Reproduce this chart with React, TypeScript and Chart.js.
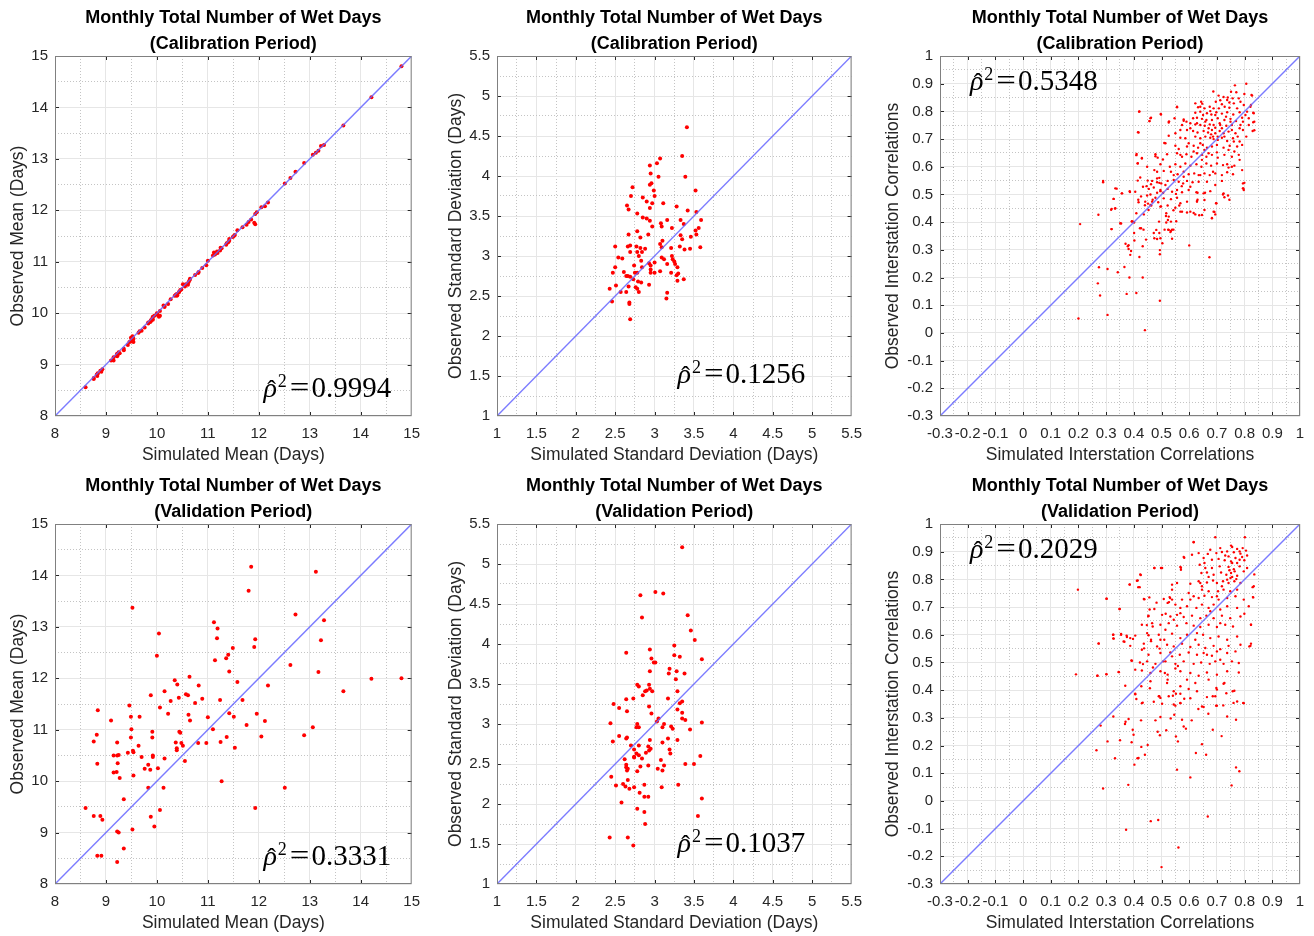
import React, { useEffect, useRef } from "react";
import { Chart, registerables } from "chart.js";

Chart.register(...registerables);

const SANS = "'Liberation Sans', Arial, Helvetica, sans-serif";
const SERIF = "'Liberation Serif', 'Times New Roman', serif";

const TITLE_MAIN = "Monthly Total Number of Wet Days";
const PERIODS = ["(Calibration Period)", "(Validation Period)"];
const RHO_VALUES = ["0.9994", "0.1256", "0.5348", "0.3331", "0.1037", "0.2029"];

// Simulated monthly means (shared by calibration and validation panels)
const simMean = [
  8.60, 8.76, 8.76, 8.82, 8.84, 8.83, 8.83, 8.91, 8.89, 8.93,
  9.10, 9.15, 9.15, 9.21, 9.22, 9.22, 9.25, 9.23, 9.27, 9.22,
  9.25, 9.22, 9.35, 9.35, 9.43, 9.46, 9.49, 9.50, 9.49, 9.52,
  9.53, 9.54, 9.54, 9.52, 9.66, 9.64, 9.70, 9.76, 9.83, 9.87,
  9.83, 9.88, 9.91, 9.91, 9.92, 9.92, 9.88, 9.95, 10.00, 10.04,
  10.06, 10.02, 10.06, 10.15, 10.15, 10.13, 10.22, 10.27, 10.35, 10.40,
  10.43, 10.37, 10.39, 10.39, 10.44, 10.46, 10.48, 10.51, 10.55, 10.57,
  10.61, 10.64, 10.62, 10.65, 10.75, 10.82, 10.89, 10.81, 10.97, 11.00,
  11.10, 11.12, 11.19, 11.18, 11.14, 11.24, 11.25, 11.27, 11.36, 11.40,
  11.42, 11.49, 11.42, 11.51, 11.37, 11.53, 11.58, 11.68, 11.76, 11.80,
  11.85, 11.91, 11.93, 11.96, 11.93, 12.12, 12.05, 12.18, 12.51, 12.62,
  12.72, 12.89, 13.06, 13.12, 13.17, 13.22, 13.28, 13.66, 14.21, 14.80,
];

const calObsMean = [
  8.56, 8.72, 8.74, 8.80, 8.83, 8.78, 8.81, 8.86, 8.88, 8.91,
  9.08, 9.08, 9.14, 9.18, 9.20, 9.16, 9.22, 9.19, 9.22, 9.21,
  9.24, 9.18, 9.31, 9.28, 9.38, 9.44, 9.52, 9.47, 9.45, 9.55,
  9.46, 9.50, 9.44, 9.53, 9.65, 9.62, 9.66, 9.72, 9.80, 9.83,
  9.82, 9.86, 9.88, 9.90, 9.87, 9.93, 9.84, 9.95, 10.00, 9.93,
  10.04, 9.96, 9.95, 10.14, 10.12, 10.15, 10.18, 10.27, 10.34, 10.35,
  10.40, 10.36, 10.37, 10.34, 10.42, 10.45, 10.46, 10.56, 10.52, 10.56,
  10.55, 10.64, 10.60, 10.67, 10.74, 10.80, 10.88, 10.78, 10.93, 11.02,
  11.12, 11.18, 11.17, 11.20, 11.14, 11.22, 11.27, 11.26, 11.33, 11.38,
  11.41, 11.48, 11.44, 11.50, 11.36, 11.52, 11.61, 11.67, 11.72, 11.77,
  11.82, 11.76, 11.93, 11.96, 11.73, 12.08, 12.06, 12.15, 12.52, 12.63,
  12.75, 12.92, 13.08, 13.12, 13.16, 13.25, 13.27, 13.65, 14.20, 14.80,
];

const valObsMean = [
  9.48, 9.32, 10.77, 10.90, 11.38, 10.34, 8.55, 8.55, 9.32, 9.25,
  11.18, 10.50, 10.17, 10.18, 10.75, 10.50, 10.51, 10.35, 10.06, 9.02,
  9.00, 8.43, 9.65, 8.69, 10.55, 11.47, 11.25, 11.01, 10.85, 13.37,
  10.59, 10.56, 10.11, 9.06, 11.25, 10.69, 10.47, 10.24, 10.32, 10.22,
  9.87, 11.67, 10.96, 10.85, 10.50, 10.47, 9.31, 9.12, 12.44, 12.87,
  11.43, 10.25, 9.44, 11.75, 10.44, 9.87, 11.31, 11.56, 11.96, 11.88,
  11.62, 10.75, 10.64, 10.60, 10.96, 10.94, 10.74, 10.69, 10.39, 11.69,
  11.67, 12.03, 11.29, 11.18, 11.52, 11.86, 11.60, 10.74, 10.74, 11.24,
  11.01, 13.09, 12.97, 12.78, 12.35, 11.58, 10.76, 10.00, 12.39, 12.46,
  12.13, 12.59, 11.32, 11.25, 10.86, 10.65, 11.93, 11.58, 11.09, 13.70,
  14.17, 12.61, 12.76, 11.31, 9.48, 11.17, 10.87, 11.86, 9.87, 12.26,
  13.24, 10.89, 11.05, 14.07, 12.12, 12.74, 13.13, 11.75, 11.99, 12.00,
];

// [simulated, observed] standard deviations
const calSd = [
  [3.41,4.61],[3.35,4.25],[3.07,4.22],[3.03,4.16],[2.94,4.13],[2.95,4.03],[3.05,3.99],[3.39,3.99],[2.96,3.91],[2.94,3.89],
  [2.72,3.86],[2.99,3.82],[3.00,3.75],[2.70,3.75],[3.52,3.82],[2.85,3.73],[2.90,3.68],[2.97,3.66],[3.11,3.66],[2.94,3.60],
  [2.65,3.63],[2.67,3.58],[3.28,3.62],[3.42,3.57],[3.53,3.55],[2.78,3.53],[2.85,3.48],[2.90,3.47],[2.94,3.44],[3.16,3.45],
  [3.33,3.45],[3.59,3.45],[3.08,3.41],[3.09,3.37],[2.97,3.37],[3.37,3.40],[3.22,3.35],[3.56,3.35],[2.67,3.27],[2.78,3.31],
  [3.52,3.32],[3.53,3.27],[2.92,3.27],[2.82,3.23],[3.33,3.26],[3.46,3.24],[3.10,3.19],[3.35,3.21],[2.50,3.12],[2.66,3.12],
  [2.69,3.13],[2.77,3.12],[2.82,3.10],[2.88,3.09],[3.07,3.15],[3.09,3.11],[3.32,3.12],[3.38,3.08],[3.45,3.09],[3.58,3.11],
  [2.78,3.05],[2.69,3.05],[2.84,3.05],[2.80,3.00],[3.21,3.10],[3.22,3.00],[3.09,2.98],[3.12,2.96],[3.23,2.96],[3.25,2.93],
  [3.00,2.92],[2.54,2.98],[2.59,2.97],[2.83,2.94],[2.95,2.88],[3.16,2.90],[2.93,2.91],[2.74,2.88],[2.47,2.79],[2.50,2.86],
  [2.61,2.80],[2.64,2.75],[2.66,2.75],[2.69,2.74],[2.75,2.79],[2.78,2.79],[2.84,2.86],[2.95,2.83],[2.95,2.79],[3.07,2.81],
  [3.21,2.79],[3.29,2.86],[3.30,2.78],[3.28,2.76],[3.37,2.71],[3.29,2.69],[2.79,2.68],[2.83,2.67],[2.73,2.71],[2.43,2.59],
  [2.51,2.63],[2.67,2.62],[2.76,2.61],[2.78,2.59],[2.93,2.64],[2.57,2.55],[2.64,2.55],[2.80,2.55],[3.16,2.54],[3.15,2.47],
  [2.46,2.43],[2.68,2.42],[2.68,2.40],[2.69,2.21],[3.00,2.79],[3.26,2.90],
];

const valSd = [
  [3.35,5.21],[3.01,4.65],[3.11,4.63],[2.82,4.61],[2.84,4.33],[3.42,4.36],[3.46,4.17],[3.51,4.05],[3.25,3.98],[3.25,3.86],
  [2.94,3.93],[2.64,3.89],[3.32,3.84],[3.60,3.81],[2.96,3.82],[2.99,3.77],[3.01,3.77],[3.19,3.69],[3.18,3.63],[2.94,3.66],
  [3.28,3.66],[3.38,3.63],[3.27,3.56],[2.78,3.49],[2.80,3.47],[2.93,3.49],[2.94,3.44],[2.90,3.42],[2.88,3.41],[2.97,3.41],
  [2.85,3.36],[3.29,3.41],[2.73,3.32],[2.64,3.31],[3.17,3.32],[3.35,3.28],[3.32,3.26],[2.48,3.25],[2.55,3.20],[2.65,3.16],
  [2.93,3.22],[2.96,3.13],[3.29,3.18],[3.35,3.14],[3.35,3.07],[3.39,3.05],[3.05,3.07],[3.03,3.03],[2.44,3.01],[2.78,3.00],
  [2.77,2.96],[2.80,2.96],[3.12,3.00],[3.10,2.96],[3.21,2.97],[3.23,2.94],[3.45,2.93],[3.60,3.02],[2.55,2.85],[2.47,2.78],
  [2.64,2.82],[2.65,2.83],[2.94,2.80],[3.17,2.82],[3.29,2.80],[3.10,2.77],[2.70,2.73],[2.80,2.73],[2.92,2.72],[2.95,2.69],
  [2.93,2.67],[2.74,2.68],[2.77,2.63],[3.19,2.68],[3.20,2.63],[2.89,2.64],[2.80,2.61],[2.74,2.59],[2.74,2.58],[2.84,2.57],
  [2.62,2.56],[3.08,2.55],[3.58,2.60],[2.64,2.49],[2.64,2.46],[2.66,2.44],[2.65,2.42],[2.82,2.47],[2.92,2.48],[3.12,2.48],
  [3.39,2.50],[3.50,2.50],[3.04,2.44],[3.10,2.42],[2.78,2.41],[2.45,2.34],[2.51,2.23],[2.60,2.25],[2.63,2.22],[2.66,2.30],
  [2.74,2.21],[2.68,2.19],[2.87,2.24],[3.09,2.21],[3.30,2.24],[2.81,2.14],[2.87,2.09],[2.92,2.09],[2.58,2.02],[3.60,2.07],
  [2.78,1.94],[2.87,1.90],[2.88,1.75],[3.55,1.85],[2.43,1.58],[2.66,1.58],[2.73,1.48],
];

// [simulated, observed] interstation correlations
const calCorr = [
  [0.20,0.052],[0.206,0.393],[0.289,0.544],[0.272,0.427],[0.274,0.237],[0.27,0.179],[0.278,0.135],[0.305,0.065],[0.305,0.231],[0.32,0.375],
  [0.327,0.484],[0.32,0.448],[0.332,0.449],[0.338,0.521],[0.342,0.219],[0.354,0.395],[0.357,0.504],[0.366,0.238],[0.37,0.322],[0.374,0.141],
  [0.384,0.2],[0.386,0.509],[0.381,0.317],[0.378,0.313],[0.381,0.303],[0.387,0.282],[0.39,0.296],[0.393,0.403],[0.401,0.399],[0.401,0.361],
  [0.402,0.334],[0.409,0.144],[0.41,0.646],[0.414,0.613],[0.415,0.725],[0.414,0.55],[0.416,0.481],[0.42,0.274],[0.422,0.378],[0.42,0.8],
  [0.426,0.493],[0.429,0.632],[0.432,0.313],[0.432,0.2],[0.435,0.373],[0.44,0.461],[0.44,0.01],[0.444,0.337],[0.446,0.53],[0.45,0.55],
  [0.451,0.467],[0.456,0.765],[0.46,0.775],[0.462,0.537],[0.468,0.481],[0.472,0.361],[0.474,0.588],[0.478,0.638],[0.484,0.339],[0.484,0.506],
  [0.488,0.472],[0.492,0.56],[0.492,0.361],[0.494,0.284],[0.494,0.299],[0.494,0.116],[0.497,0.791],[0.492,0.542],[0.496,0.512],[0.498,0.457],
  [0.505,0.626],[0.506,0.506],[0.51,0.686],[0.511,0.373],[0.516,0.422],[0.517,0.399],[0.524,0.373],[0.527,0.764],[0.532,0.364],[0.538,0.373],
  [0.538,0.34],[0.543,0.373],[0.543,0.443],[0.553,0.403],[0.556,0.817],[0.552,0.502],[0.564,0.46],[0.573,0.53],[0.58,0.766],[0.6,0.316],
  [0.616,0.433],[0.63,0.481],[0.636,0.425],[0.63,0.506],[0.657,0.506],[0.673,0.273],[0.682,0.415],[0.691,0.437],[0.697,0.468],[0.727,0.49],
  [0.74,0.496],[0.745,0.481],[0.795,0.522],[0.799,0.542],[0.835,0.732],[0.831,0.761],[0.831,0.795],[0.823,0.823],[0.825,0.859],[0.806,0.9],
  [0.765,0.894],[0.687,0.872],[0.799,0.863],[0.751,0.871],[0.770,0.869],[0.706,0.857],[0.724,0.852],[0.739,0.850],[0.757,0.847],[0.779,0.847],
  [0.827,0.857],[0.643,0.835],[0.647,0.828],[0.696,0.835],[0.712,0.840],[0.745,0.832],[0.761,0.829],[0.785,0.835],[0.797,0.823],[0.821,0.817],
  [0.632,0.815],[0.655,0.811],[0.674,0.817],[0.688,0.811],[0.707,0.811],[0.728,0.817],[0.745,0.813],[0.773,0.811],[0.556,0.815],[0.419,0.799],
  [0.498,0.789],[0.462,0.777],[0.622,0.795],[0.640,0.799],[0.664,0.793],[0.680,0.789],[0.698,0.797],[0.718,0.792],[0.737,0.797],[0.759,0.789],
  [0.782,0.797],[0.809,0.799],[0.833,0.793],[0.457,0.765],[0.547,0.775],[0.580,0.771],[0.614,0.775],[0.628,0.777],[0.646,0.773],[0.662,0.769],
  [0.682,0.769],[0.703,0.775],[0.727,0.769],[0.749,0.773],[0.769,0.765],[0.791,0.777],[0.815,0.775],[0.526,0.760],[0.574,0.751],[0.604,0.757],
  [0.622,0.753],[0.640,0.751],[0.656,0.748],[0.674,0.753],[0.688,0.751],[0.712,0.751],[0.734,0.748],[0.754,0.751],[0.785,0.751],[0.835,0.763],
  [0.417,0.724],[0.526,0.712],[0.568,0.705],[0.592,0.733],[0.614,0.729],[0.630,0.724],[0.652,0.729],[0.668,0.724],[0.682,0.733],[0.694,0.721],
  [0.710,0.729],[0.724,0.721],[0.742,0.727],[0.767,0.721],[0.794,0.733],[0.829,0.729],[0.586,0.703],[0.622,0.709],[0.640,0.703],[0.658,0.709],
  [0.676,0.705],[0.688,0.700],[0.703,0.697],[0.718,0.705],[0.737,0.693],[0.758,0.703],[0.782,0.691],[0.806,0.709],[0.514,0.685],[0.550,0.676],
  [0.562,0.664],[0.598,0.685],[0.616,0.676],[0.632,0.669],[0.649,0.679],[0.664,0.669],[0.682,0.673],[0.700,0.679],[0.724,0.669],[0.746,0.676],
  [0.773,0.673],[0.791,0.679],[0.478,0.645],[0.520,0.645],[0.556,0.649],[0.574,0.636],[0.590,0.645],[0.608,0.636],[0.628,0.649],[0.646,0.643],
  [0.662,0.636],[0.682,0.643],[0.703,0.633],[0.727,0.643],[0.754,0.636],[0.779,0.643],[0.409,0.642],[0.414,0.612],[0.429,0.630],[0.486,0.633],
  [0.448,0.600],[0.496,0.609],[0.530,0.600],[0.550,0.609],[0.568,0.600],[0.586,0.612],[0.604,0.604],[0.626,0.609],[0.644,0.600],[0.662,0.612],
  [0.679,0.604],[0.700,0.612],[0.722,0.606],[0.742,0.597],[0.763,0.604],[0.484,0.582],[0.508,0.585],[0.534,0.582],[0.558,0.573],[0.580,0.582],
  [0.598,0.573],[0.618,0.576],[0.634,0.570],[0.655,0.576],[0.674,0.570],[0.694,0.576],[0.718,0.570],[0.737,0.580],[0.758,0.573],[0.423,0.561],
  [0.466,0.549],[0.484,0.544],[0.499,0.540],[0.522,0.549],[0.544,0.552],[0.562,0.546],[0.578,0.540],[0.592,0.549],[0.612,0.544],[0.634,0.546],
  [0.664,0.546],[0.694,0.534],[0.718,0.549],[0.794,0.540],[0.433,0.528],[0.454,0.520],[0.472,0.525],[0.496,0.516],[0.522,0.520],[0.538,0.510],
  [0.556,0.516],[0.574,0.508],[0.598,0.516],[0.626,0.508],[0.652,0.504],[0.676,0.512],[0.724,0.504],[0.794,0.522],[0.405,0.510],[0.448,0.496],
  [0.478,0.488],[0.508,0.486],[0.534,0.483],[0.556,0.488],[0.568,0.468],[0.592,0.474],[0.628,0.476],[0.655,0.480],[0.698,0.468],[0.460,0.462],
  [0.496,0.456],[0.522,0.460],[0.550,0.452],[0.574,0.438],[0.592,0.435],[0.622,0.428],[0.646,0.426],[0.688,0.438],[0.682,0.414],[0.517,0.432],
  [0.534,0.402],[0.491,0.402],[0.526,0.372],[0.534,0.368],[0.481,0.372],[0.496,0.342],[0.426,0.378],[0.397,0.402],[0.351,0.396],[0.319,0.375],
  [0.289,0.549],[0.333,0.522],[0.357,0.504],[0.385,0.512],[0.327,0.484],[0.318,0.445],[0.333,0.450],[0.417,0.472],[0.441,0.474],[0.463,0.460],
  [0.409,0.432],[0.393,0.402],[0.436,0.428],[0.453,0.444],[0.466,0.474],[0.526,0.420],[0.568,0.438],[0.604,0.438],[0.628,0.474],[0.655,0.444],
  [0.694,0.428],[0.722,0.500],[0.754,0.600],[0.791,0.588],[0.797,0.516],[0.523,0.408],[0.474,0.342],[0.503,0.324],
  [0.670,0.739],[0.679,0.717],[0.686,0.709],[0.694,0.741],[0.703,0.709],[0.710,0.757],[0.718,0.739],[0.727,0.709],[0.733,0.781],[0.749,0.763],
  [0.754,0.733],[0.761,0.691],[0.775,0.709],[0.782,0.739],[0.794,0.763],[0.803,0.787],[0.815,0.751],[0.650,0.787],[0.658,0.763],[0.628,0.757],
  [0.604,0.739],[0.590,0.763],[0.568,0.733],[0.550,0.721],[0.640,0.685],[0.655,0.661],[0.670,0.649],[0.646,0.625],[0.616,0.655],[0.592,0.673],
  [0.568,0.643],[0.700,0.652],[0.742,0.661],[0.763,0.655],[0.782,0.625],[0.737,0.609],[0.686,0.582],[0.640,0.570],[0.604,0.528],[0.580,0.564],
  [0.544,0.570],[0.514,0.534],[0.484,0.558],[0.460,0.500],[0.737,0.841],[0.718,0.826],[0.694,0.787],[0.676,0.801],[0.640,0.817],[0.622,0.829],
];

const valCorr = [
  [0.198,0.763],[0.191,0.457],[0.273,0.569],[0.268,0.452],[0.280,0.272],[0.265,0.183],[0.289,0.045],[0.302,0.730],[0.301,0.457],[0.305,0.215],
  [0.326,0.305],[0.326,0.600],[0.326,0.587],[0.332,0.154],[0.348,0.693],[0.345,0.466],[0.350,0.219],[0.354,0.603],[0.366,0.575],[0.374,0.597],
  [0.368,0.278],[0.370,0.286],[0.372,-0.104],[0.380,0.058],[0.385,0.781],[0.381,0.296],[0.387,0.588],[0.393,0.506],[0.392,0.212],[0.396,0.257],
  [0.399,0.239],[0.402,0.131],[0.405,0.385],[0.409,0.368],[0.413,0.154],[0.417,0.155],[0.411,0.795],[0.416,0.772],[0.422,0.500],[0.426,0.291],
  [0.425,0.816],[0.427,0.414],[0.427,0.195],[0.432,0.355],[0.433,0.494],[0.438,0.728],[0.437,0.551],[0.440,0.167],[0.447,0.635],[0.452,0.667],
  [0.453,0.598],[0.450,0.202],[0.458,0.407],[0.456,0.735],[0.461,-0.073],[0.462,0.577],[0.468,0.630],[0.469,0.482],[0.472,0.358],[0.474,0.841],
  [0.482,0.716],[0.478,0.291],[0.486,0.250],[0.488,-0.069],[0.492,0.378],[0.493,0.550],[0.496,0.372],[0.496,0.303],[0.494,0.237],[0.498,0.841],
  [0.500,-0.239],[0.508,0.729],[0.506,0.504],[0.515,0.676],[0.512,0.462],[0.517,0.255],[0.522,0.438],[0.527,0.718],[0.531,0.733],[0.533,0.298],
  [0.538,0.781],[0.538,0.522],[0.541,0.380],[0.544,0.348],[0.546,0.311],[0.550,0.478],[0.552,0.233],[0.556,0.113],[0.559,0.215],[0.561,-0.168],
  [0.552,0.387],[0.559,0.487],[0.568,0.354],[0.570,0.842],[0.574,0.293],[0.580,0.269],[0.588,0.261],[0.582,0.369],[0.582,0.878],[0.604,0.085],
  [0.609,0.291],[0.616,0.935],[0.624,0.173],[0.633,0.332],[0.646,0.205],[0.652,0.339],[0.661,0.167],[0.667,-0.056],[0.669,0.315],[0.685,0.257],
  [0.685,0.378],[0.697,0.344],[0.700,0.402],[0.717,0.234],[0.723,0.345],[0.727,0.426],[0.737,0.305],[0.753,0.056],[0.757,0.396],[0.763,0.398],
  [0.760,0.354],[0.769,0.293],[0.769,0.121],[0.781,0.107],[0.795,0.354],[0.801,0.952],[0.694,0.952],[0.823,0.636],[0.829,0.772],[0.835,0.818],
  [0.831,0.735],[0.817,0.558],[0.823,0.568],
  [0.616,0.934],[0.755,0.917],[0.773,0.910],[0.793,0.913],[0.737,0.901],[0.761,0.898],[0.782,0.901],[0.805,0.904],[0.676,0.907],[0.698,0.895],
  [0.718,0.899],[0.667,0.892],[0.610,0.889],[0.634,0.895],[0.742,0.883],[0.767,0.877],[0.791,0.881],[0.728,0.869],[0.751,0.865],[0.773,0.859],
  [0.799,0.869],[0.580,0.881],[0.652,0.877],[0.682,0.871],[0.706,0.874],[0.568,0.845],[0.570,0.835],[0.474,0.841],[0.502,0.841],[0.638,0.853],
  [0.658,0.841],[0.682,0.841],[0.710,0.847],[0.742,0.845],[0.761,0.837],[0.782,0.847],[0.809,0.841],[0.644,0.823],[0.664,0.825],[0.688,0.817],
  [0.715,0.825],[0.734,0.817],[0.751,0.823],[0.755,0.809],[0.773,0.813],[0.797,0.829],[0.423,0.818],[0.634,0.793],[0.640,0.787],[0.664,0.789],
  [0.686,0.796],[0.700,0.787],[0.722,0.793],[0.742,0.787],[0.763,0.793],[0.785,0.787],[0.604,0.784],[0.556,0.787],[0.538,0.763],[0.414,0.796],
  [0.385,0.782],[0.421,0.772],[0.646,0.763],[0.670,0.757],[0.704,0.757],[0.724,0.763],[0.748,0.757],[0.773,0.763],[0.833,0.775],[0.301,0.730],
  [0.436,0.729],[0.529,0.736],[0.538,0.727],[0.598,0.751],[0.616,0.739],[0.634,0.733],[0.655,0.741],[0.682,0.736],[0.706,0.727],[0.737,0.733],
  [0.767,0.739],[0.797,0.727],[0.830,0.736],[0.349,0.693],[0.457,0.691],[0.474,0.693],[0.522,0.715],[0.550,0.709],[0.568,0.697],[0.592,0.703],
  [0.626,0.697],[0.646,0.709],[0.670,0.697],[0.688,0.709],[0.712,0.691],[0.737,0.703],[0.773,0.697],[0.815,0.703],[0.453,0.669],[0.502,0.672],
  [0.532,0.666],[0.556,0.672],[0.580,0.664],[0.610,0.669],[0.640,0.660],[0.662,0.669],[0.688,0.660],[0.718,0.669],[0.748,0.660],[0.785,0.666],
  [0.799,0.676],[0.429,0.636],[0.466,0.642],[0.496,0.636],[0.526,0.642],[0.556,0.633],[0.590,0.642],[0.616,0.633],[0.640,0.628],[0.670,0.636],
  [0.700,0.628],[0.730,0.636],[0.758,0.630],[0.823,0.636],[0.325,0.600],[0.327,0.586],[0.354,0.600],[0.375,0.592],[0.397,0.585],[0.405,0.597],
  [0.448,0.606],[0.462,0.582],[0.490,0.600],[0.510,0.582],[0.538,0.604],[0.568,0.588],[0.592,0.600],[0.622,0.582],[0.650,0.600],[0.676,0.588],
  [0.706,0.594],[0.737,0.582],[0.773,0.594],[0.273,0.568],[0.363,0.576],[0.387,0.560],[0.436,0.568],[0.484,0.558],[0.520,0.564],[0.544,0.558],
  [0.574,0.568],[0.604,0.556],[0.634,0.564],[0.658,0.552],[0.688,0.560],[0.712,0.548],[0.742,0.560],[0.785,0.564],[0.821,0.560],[0.429,0.546],
  [0.453,0.528],[0.496,0.534],[0.532,0.536],[0.566,0.528],[0.598,0.536],[0.628,0.528],[0.652,0.534],[0.682,0.524],[0.700,0.540],[0.737,0.534],
  [0.767,0.540],[0.391,0.507],[0.448,0.504],[0.478,0.495],[0.514,0.504],[0.550,0.495],[0.580,0.504],[0.616,0.495],[0.643,0.500],[0.674,0.495],
  [0.694,0.504],[0.724,0.495],[0.269,0.452],[0.301,0.458],[0.346,0.465],[0.369,0.416],[0.405,0.474],[0.429,0.471],[0.460,0.462],[0.496,0.468],
  [0.522,0.456],[0.568,0.468],[0.604,0.462],[0.634,0.452],[0.664,0.464],[0.700,0.456],[0.737,0.468],[0.779,0.464],[0.405,0.387],[0.429,0.353],
  [0.460,0.432],[0.490,0.378],[0.502,0.351],[0.520,0.426],[0.544,0.396],[0.568,0.414],[0.568,0.387],[0.598,0.404],[0.604,0.371],[0.628,0.396],
  [0.664,0.375],[0.698,0.408],[0.724,0.423],[0.734,0.389],[0.773,0.359],[0.797,0.353],[0.550,0.344],[0.646,0.341],[0.700,0.344],
  [0.745,0.833],[0.764,0.829],[0.749,0.805],[0.737,0.799],[0.770,0.801],[0.755,0.859],[0.782,0.871],[0.730,0.886],[0.712,0.913],[0.751,0.922],
  [0.785,0.893],[0.809,0.886],[0.655,0.859],[0.670,0.809],[0.646,0.775],[0.718,0.775],[0.700,0.739],[0.676,0.685],[0.712,0.642],[0.604,0.727],
  [0.574,0.727],[0.568,0.678],[0.544,0.654],[0.514,0.618],[0.496,0.582],[0.628,0.606],[0.664,0.528],[0.712,0.510],[0.754,0.504],[0.779,0.498],
  [0.592,0.438],[0.622,0.426],[0.526,0.378],[0.568,0.353],[0.670,0.438],[0.694,0.378],
];

type AxisKey = "mean" | "sd" | "corr";
const AXES: Record<AxisKey, { min: number; max: number; major: number; minor: number }> = {
  mean: { min: 8, max: 15, major: 1, minor: 0.5 },
  sd: { min: 1, max: 5.5, major: 0.5, minor: 0.25 },
  corr: { min: -0.3, max: 1, major: 0.1, minor: 0.05 },
};

const tickValues = (k: AxisKey) => {
  const a = AXES[k];
  const n = Math.round((a.max - a.min) / a.minor);
  const out: number[] = [];
  for (let i = 0; i <= n; i++) out.push(+(a.min + i * a.minor).toFixed(6));
  return out;
};
const isMajor = (v: number, major: number) => Math.abs(v / major - Math.round(v / major)) < 1e-6;
const fmt = (v: number) => String(+Number(v).toFixed(4));

const toPts = (pairs: number[][]) => pairs.map((p) => ({ x: p[0], y: p[1] }));

interface PanelSpec {
  left: number;
  top: number;
  yAxisW: number;
  axis: AxisKey;
  xTitle: string;
  yTitle: string;
  period: number;
  points: { x: number; y: number }[];
  radius: number;
  rho: string;
  rhoAt: [number, number];
}

const PANELS: PanelSpec[] = [
  { left: 55, top: 56, yAxisW: 55, axis: "mean", xTitle: "Simulated Mean (Days)", yTitle: "Observed Mean (Days)", period: 0,
    points: simMean.map((x, i) => ({ x, y: calObsMean[i] })), radius: 2, rho: RHO_VALUES[0], rhoAt: [12.09, 8.37] },
  { left: 497, top: 56, yAxisW: 59, axis: "sd", xTitle: "Simulated Standard Deviation (Days)", yTitle: "Observed Standard Deviation (Days)", period: 0,
    points: toPts(calSd), radius: 2, rho: RHO_VALUES[1], rhoAt: [3.29, 1.41] },
  { left: 940, top: 56, yAxisW: 65, axis: "corr", xTitle: "Simulated Interstation Correlations", yTitle: "Observed Interstation Correlations", period: 0,
    points: toPts(calCorr), radius: 1.2, rho: RHO_VALUES[2], rhoAt: [-0.192, 0.877] },
  { left: 55, top: 524, yAxisW: 55, axis: "mean", xTitle: "Simulated Mean (Days)", yTitle: "Observed Mean (Days)", period: 1,
    points: simMean.map((x, i) => ({ x, y: valObsMean[i] })), radius: 2, rho: RHO_VALUES[3], rhoAt: [12.09, 8.37] },
  { left: 497, top: 524, yAxisW: 59, axis: "sd", xTitle: "Simulated Standard Deviation (Days)", yTitle: "Observed Standard Deviation (Days)", period: 1,
    points: toPts(valSd), radius: 2, rho: RHO_VALUES[4], rhoAt: [3.29, 1.40] },
  { left: 940, top: 524, yAxisW: 65, axis: "corr", xTitle: "Simulated Interstation Correlations", yTitle: "Observed Interstation Correlations", period: 1,
    points: toPts(valCorr), radius: 1.2, rho: RHO_VALUES[5], rhoAt: [-0.192, 0.877] },
];

const PAD_TOP = 56;
const PLOT = 360;
const PAD_RIGHT = 14;
const X_AXIS_H = 50;
const DIAG_COLOR = "rgba(100,100,255,0.85)";

function Panel({ spec }: { spec: PanelSpec }) {
  const ref = useRef<HTMLCanvasElement>(null);
  const w = spec.yAxisW + PLOT + PAD_RIGHT;
  const h = PAD_TOP + PLOT + X_AXIS_H;

  useEffect(() => {
    const ax = AXES[spec.axis];
    const ticks = tickValues(spec.axis);
    const majors = ticks.filter((v) => isMajor(v, ax.major));
    const major = (c: any) => c && c.tick && isMajor(c.tick.value, ax.major);

    const overlay = {
      id: "overlay",
      afterDraw(chart: any) {
        const { ctx, chartArea: a } = chart;
        const xs = chart.scales.x;
        const ys = chart.scales.y;
        ctx.save();
        ctx.setLineDash([]);
        // inward tick marks on all four sides
        ctx.lineWidth = 1;
        ctx.strokeStyle = "#262626";
        majors.forEach((v) => {
          if (v === ax.min || v === ax.max) return;
          const px = Math.round(xs.getPixelForValue(v)) + 0.5;
          const py = Math.round(ys.getPixelForValue(v)) + 0.5;
          ctx.beginPath();
          ctx.moveTo(px, a.bottom);
          ctx.lineTo(px, a.bottom - 4);
          ctx.stroke();
          ctx.beginPath();
          ctx.moveTo(px, a.top);
          ctx.lineTo(px, a.top + 4);
          ctx.stroke();
          ctx.beginPath();
          ctx.moveTo(a.left, py);
          ctx.lineTo(a.left + 4, py);
          ctx.stroke();
          ctx.beginPath();
          ctx.moveTo(a.right, py);
          ctx.lineTo(a.right - 4, py);
          ctx.stroke();
        });
        // box
        ctx.strokeStyle = "#808080";
        ctx.strokeRect(a.left + 0.5, a.top + 0.5, a.right - a.left - 1, a.bottom - a.top - 1);
        // title
        ctx.fillStyle = "#000";
        ctx.font = `bold 18px ${SANS}`;
        ctx.textAlign = "center";
        ctx.textBaseline = "middle";
        const cx = (a.left + a.right) / 2;
        ctx.fillText(TITLE_MAIN, cx, a.top - 38);
        ctx.fillText(PERIODS[spec.period], cx, a.top - 12);
        // rho-hat squared annotation
        let x = xs.getPixelForValue(spec.rhoAt[0]);
        const y = ys.getPixelForValue(spec.rhoAt[1]);
        ctx.textAlign = "left";
        ctx.textBaseline = "alphabetic";
        ctx.font = `italic 28px ${SERIF}`;
        ctx.fillText("\u03C1", x, y);
        const rw = ctx.measureText("\u03C1").width;
        ctx.font = `26px ${SERIF}`;
        const hw = ctx.measureText("\u02C6").width;
        ctx.fillText("\u02C6", x + rw / 2 - hw / 2 + 1.5, y + 1);
        x += rw + 1;
        ctx.font = `18px ${SERIF}`;
        ctx.fillText("2", x, y - 10);
        x += ctx.measureText("2").width + 3;
        ctx.font = `29px ${SERIF}`;
        ctx.save();
        ctx.translate(x, y);
        ctx.scale(1.2, 1);
        ctx.fillText("=", 0, 0);
        ctx.restore();
        x += ctx.measureText("=").width * 1.2 + 2;
        ctx.fillText(spec.rho, x, y);
        ctx.restore();
      },
    };

    const scale = (title: string, isX: boolean) => ({
      type: "linear",
      position: isX ? "bottom" : "left",
      min: ax.min,
      max: ax.max,
      afterBuildTicks: (s: any) => {
        s.ticks = ticks.map((v) => ({ value: v }));
      },
      afterFit: (s: any) => {
        if (isX) s.height = X_AXIS_H;
        else s.width = spec.yAxisW;
      },
      ticks: {
        autoSkip: false,
        maxRotation: 0,
        minRotation: 0,
        padding: isX ? 9 : 7,
        color: "#262626",
        font: { family: SANS, size: 15 },
        callback: (v: any) => (isMajor(Number(v), ax.major) ? fmt(Number(v)) : ""),
      },
      grid: {
        drawTicks: false,
        tickLength: 0,
        lineWidth: 1,
        color: (c: any) => (major(c) ? "#e6e6e6" : "#c4c4c4"),
      },
      border: {
        display: false,
        dash: (c: any) => (major(c) ? [] : [1, 2]),
      },
      title: {
        display: true,
        text: title,
        color: "#262626",
        font: { family: SANS, size: 17.5 },
        padding: isX ? { top: 0, bottom: 0.5 } : { top: 7.5, bottom: 0 },
      },
    });

    const chart = new Chart(ref.current as HTMLCanvasElement, {
      type: "scatter",
      data: {
        datasets: [
          {
            label: "1:1 line",
            data: [{ x: ax.min, y: ax.min }, { x: ax.max, y: ax.max }],
            showLine: true,
            fill: false,
            tension: 0,
            borderColor: DIAG_COLOR,
            backgroundColor: DIAG_COLOR,
            borderWidth: 1.4,
            pointRadius: 0,
            pointHoverRadius: 0,
            order: 0,
          },
          {
            label: "stations",
            data: spec.points,
            showLine: false,
            pointRadius: spec.radius,
            pointHoverRadius: spec.radius,
            pointBackgroundColor: "#ff0000",
            backgroundColor: "#ff0000",
            pointBorderWidth: 0,
            borderColor: "#ff0000",
            order: 1,
          },
        ],
      } as any,
      options: {
        animation: false,
        responsive: false,
        maintainAspectRatio: false,
        devicePixelRatio: 1,
        events: [],
        layout: { padding: { top: PAD_TOP, right: PAD_RIGHT, left: 0, bottom: 0 }, autoPadding: false },
        plugins: { legend: { display: false }, title: { display: false }, tooltip: { enabled: false } },
        scales: { x: scale(spec.xTitle, true), y: scale(spec.yTitle, false) } as any,
      } as any,
      plugins: [overlay],
    });
    return () => chart.destroy();
  }, [spec]);

  return (
    <canvas
      ref={ref}
      width={w}
      height={h}
      style={{ position: "absolute", left: spec.left - spec.yAxisW, top: spec.top - PAD_TOP, width: w, height: h }}
    />
  );
}

export default function App() {
  return (
    <div style={{ position: "absolute", left: 0, top: 0, width: 1314, height: 936, overflow: "hidden", background: "#ffffff" }}>
      {PANELS.map((p, i) => (
        <Panel key={i} spec={p} />
      ))}
    </div>
  );
}
